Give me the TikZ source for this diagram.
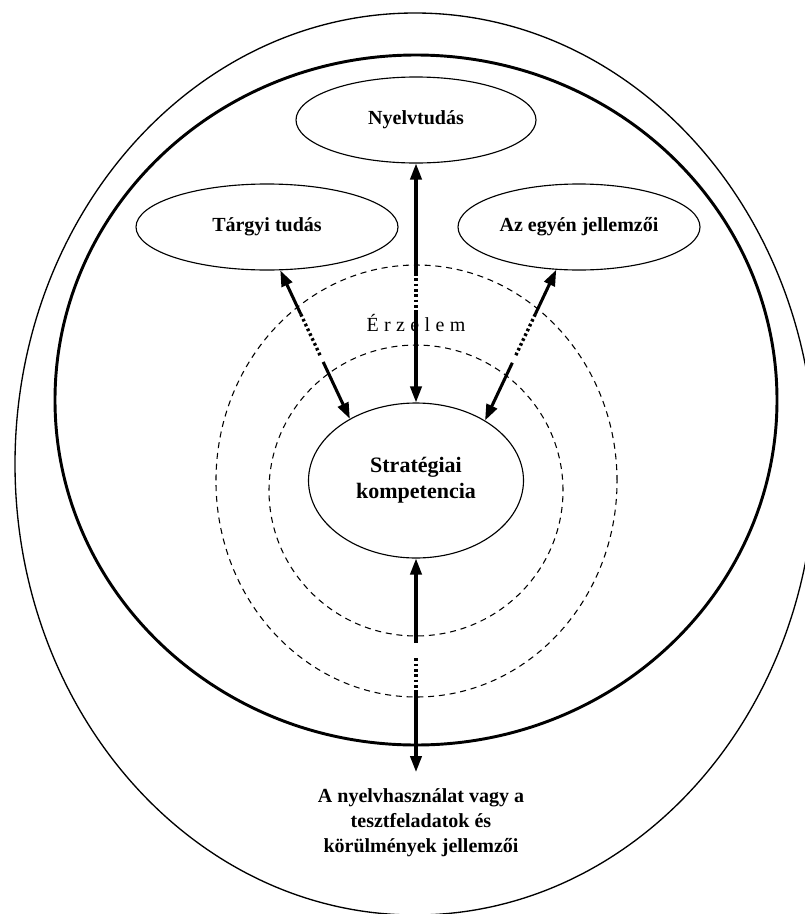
\documentclass[tikz,border=0pt]{standalone}
\usepackage{fontspec}
\setmainfont{Liberation Serif}
\usetikzlibrary{arrows.meta,shapes.geometric,calc}
\begin{document}
\begin{tikzpicture}[x=0.75pt,y=-0.75pt,
  >={Triangle[length=12pt,width=8.5pt]},
  oval/.style={draw,ellipse,line width=0.85pt,inner sep=0pt,
    font=\fontsize{15}{18}\selectfont\bfseries},
  ring/.style={line width=0.8pt,dash pattern=on 4.5pt off 3.6pt},
  link/.style={line width=2.3pt},
  dots/.style={line width=2.5pt,dash pattern=on 2pt off 2pt},
  caption/.style={font=\fontsize{15}{18.75}\selectfont\bfseries,align=center}]
\useasboundingbox (0,0) rectangle (805,914);

% enclosing outlines
\draw[line width=1pt] (415,464) ellipse [x radius=300pt, y radius=338.25pt];
\draw[line width=2.2pt] (416,400) ellipse [x radius=270.75pt, y radius=258.75pt];

% dashed rings around the centre
\draw[ring] (416.5,481) ellipse [x radius=150.4pt, y radius=162pt];
\draw[ring] (416,490.5) ellipse [x radius=110.25pt, y radius=109.1pt];

% knowledge components
\node[oval,minimum width=180pt,minimum height=64.5pt] (nyelv) at (416,120) {Nyelvtudás};
\node[oval,minimum width=196.5pt,minimum height=64.5pt] (targyi) at (267,227) {Tárgyi tudás};
\node[oval,minimum width=181.5pt,minimum height=64.5pt] (egyen) at (579,227) {Az egyén jellemzői};
\node[oval,minimum width=161.25pt,minimum height=116.25pt,
  font=\fontsize{16.5}{19.5}\selectfont\bfseries,align=center] (strat) at (416,480.5)
  {Stratégiai\\kompetencia};

\node[font=\fontsize{15}{17}\selectfont] (erz) at (416,323)
  {É\hspace{4pt}r\hspace{4pt}z\hspace{4pt}e\hspace{4pt}l\hspace{4pt}e\hspace{4pt}m};

\node[caption,anchor=north,inner xsep=0pt,inner ysep=12pt] (use) at (421,772)
  {A nyelvhasználat vagy a\\tesztfeladatok és\\körülmények jellemzői};

% break points of the connectors
\coordinate (t1) at ($(nyelv.south)!0.458!(strat.north)$);
\coordinate (t2) at ($(nyelv.south)!0.621!(strat.north)$);
\coordinate (l1) at ($(targyi.-73.5)!0.295!(strat.137.7)$);
\coordinate (l2) at ($(targyi.-73.5)!0.577!(strat.137.7)$);
\coordinate (l3) at ($(targyi.-73.5)!0.617!(strat.137.7)$);
\coordinate (r1) at ($(egyen.-118.6)!0.295!(strat.41.9)$);
\coordinate (r2) at ($(egyen.-118.6)!0.577!(strat.41.9)$);
\coordinate (r3) at ($(egyen.-118.6)!0.617!(strat.41.9)$);
\coordinate (bend) at (strat.south |- use.north);
\coordinate (b1) at ($(strat.south)!0.397!(bend)$);
\coordinate (b2) at ($(strat.south)!0.467!(bend)$);
\coordinate (b3) at ($(strat.south)!0.626!(bend)$);

% Nyelvtudás <-> stratégiai kompetencia
\draw[link,<-] (nyelv.south) -- (t1);
\draw[dots] (t1) -- (t2);
\draw[link,->] (t2) -- (strat.north);

% Tárgyi tudás <-> stratégiai kompetencia
\draw[link,<-] (targyi.-73.5) -- (l1);
\draw[dots] (l1) -- (l2);
\draw[link,->] (l3) -- (strat.137.7);

% Az egyén jellemzői <-> stratégiai kompetencia
\draw[link,<-] (egyen.-118.6) -- (r1);
\draw[dots] (r1) -- (r2);
\draw[link,->] (r3) -- (strat.41.9);

% stratégiai kompetencia <-> nyelvhasználat
\draw[link,<-] (strat.south) -- (b1);
\draw[dots] (b2) -- (b3);
\draw[link,->] (b3) -- (bend);
\end{tikzpicture}
\end{document}
